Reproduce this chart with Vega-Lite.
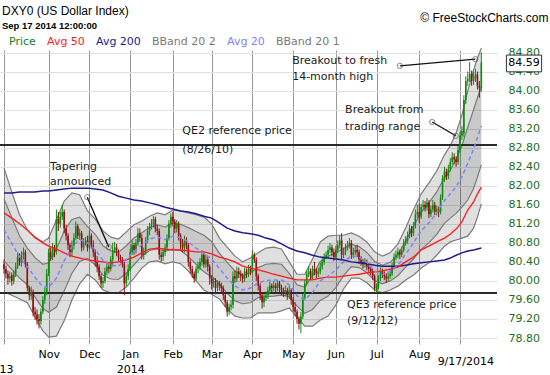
{
"$schema":"https://vega.github.io/schema/vega-lite/v6.json",
"width":497,"height":294,
"autosize":{"type":"none"},
"padding":{"left":0,"top":50,"right":53,"bottom":31},
"background":"white",
"config":{"view":{"stroke":null},"font":"DejaVu Sans"},
"title":{"text":"DXY0 (US Dollar Index)","subtitle":"Sep 17 2014 12:00:00","anchor":"start","frame":"group","offset":0,"dx":2,"dy":20,"font":"Liberation Sans","fontSize":12,"fontWeight":"normal","color":"#000","subtitleFont":"Liberation Sans","subtitleFontSize":9.5,"subtitleFontWeight":"bold","subtitleColor":"#000","subtitlePadding":3},
"resolve":{"axis":{"x":"independent","y":"independent"}},
"datasets":{
"px":[
{"d":"2013-10-01","o":80.35,"h":80.45,"l":80.15,"c":80.25},
{"d":"2013-10-02","o":80.25,"h":80.32,"l":80.05,"c":80.15},
{"d":"2013-10-03","o":80.15,"h":80.22,"l":79.92,"c":80.05},
{"d":"2013-10-04","o":80.05,"h":80.2,"l":79.97,"c":80.1},
{"d":"2013-10-07","o":80.12,"h":80.18,"l":79.9,"c":80.0},
{"d":"2013-10-08","o":80.0,"h":80.22,"l":79.93,"c":80.15},
{"d":"2013-10-09","o":80.15,"h":80.38,"l":80.08,"c":80.3},
{"d":"2013-10-10","o":80.3,"h":80.6,"l":80.25,"c":80.5},
{"d":"2013-10-11","o":80.5,"h":80.58,"l":80.32,"c":80.4},
{"d":"2013-10-14","o":80.38,"h":80.62,"l":80.3,"c":80.55},
{"d":"2013-10-15","o":80.55,"h":80.7,"l":80.45,"c":80.6},
{"d":"2013-10-16","o":80.6,"h":80.66,"l":80.28,"c":80.35},
{"d":"2013-10-17","o":80.35,"h":80.4,"l":79.78,"c":79.85},
{"d":"2013-10-18","o":79.85,"h":79.9,"l":79.6,"c":79.7},
{"d":"2013-10-21","o":79.68,"h":79.88,"l":79.6,"c":79.75},
{"d":"2013-10-22","o":79.75,"h":79.82,"l":79.25,"c":79.35},
{"d":"2013-10-23","o":79.35,"h":79.45,"l":79.18,"c":79.3},
{"d":"2013-10-24","o":79.3,"h":79.4,"l":79.08,"c":79.2},
{"d":"2013-10-25","o":79.2,"h":79.3,"l":79.0,"c":79.15},
{"d":"2013-10-28","o":79.15,"h":79.42,"l":79.08,"c":79.35},
{"d":"2013-10-29","o":79.35,"h":79.68,"l":79.3,"c":79.6},
{"d":"2013-10-30","o":79.6,"h":79.85,"l":79.52,"c":79.75},
{"d":"2013-10-31","o":79.75,"h":80.25,"l":79.7,"c":80.15},
{"d":"2013-11-01","o":80.15,"h":80.68,"l":80.1,"c":80.6},
{"d":"2013-11-04","o":80.6,"h":80.7,"l":80.42,"c":80.5},
{"d":"2013-11-05","o":80.5,"h":80.8,"l":80.44,"c":80.7},
{"d":"2013-11-06","o":80.7,"h":80.76,"l":80.5,"c":80.6},
{"d":"2013-11-07","o":80.62,"h":81.5,"l":80.55,"c":81.3},
{"d":"2013-11-08","o":81.3,"h":81.45,"l":81.05,"c":81.2},
{"d":"2013-11-11","o":81.2,"h":81.45,"l":81.12,"c":81.35},
{"d":"2013-11-12","o":81.35,"h":81.6,"l":81.28,"c":81.45},
{"d":"2013-11-13","o":81.45,"h":81.5,"l":81.0,"c":81.1},
{"d":"2013-11-14","o":81.1,"h":81.18,"l":80.85,"c":80.95},
{"d":"2013-11-15","o":80.95,"h":81.0,"l":80.65,"c":80.75},
{"d":"2013-11-18","o":80.75,"h":80.8,"l":80.5,"c":80.6},
{"d":"2013-11-19","o":80.6,"h":80.85,"l":80.52,"c":80.75},
{"d":"2013-11-20","o":80.75,"h":81.0,"l":80.66,"c":80.9},
{"d":"2013-11-21","o":80.9,"h":81.25,"l":80.85,"c":81.15},
{"d":"2013-11-22","o":81.15,"h":81.2,"l":80.88,"c":80.95},
{"d":"2013-11-25","o":80.95,"h":81.1,"l":80.86,"c":81.0},
{"d":"2013-11-26","o":81.0,"h":81.05,"l":80.62,"c":80.7},
{"d":"2013-11-27","o":80.7,"h":80.9,"l":80.64,"c":80.8},
{"d":"2013-11-28","o":80.8,"h":80.92,"l":80.74,"c":80.85},
{"d":"2013-11-29","o":80.85,"h":80.95,"l":80.62,"c":80.7},
{"d":"2013-12-02","o":80.7,"h":81.05,"l":80.66,"c":80.95},
{"d":"2013-12-03","o":80.95,"h":81.0,"l":80.68,"c":80.75},
{"d":"2013-12-04","o":80.75,"h":80.85,"l":80.5,"c":80.6},
{"d":"2013-12-05","o":80.6,"h":80.66,"l":80.3,"c":80.4},
{"d":"2013-12-06","o":80.4,"h":80.52,"l":80.18,"c":80.3},
{"d":"2013-12-09","o":80.3,"h":80.35,"l":80.02,"c":80.1},
{"d":"2013-12-10","o":80.1,"h":80.15,"l":79.86,"c":79.95},
{"d":"2013-12-11","o":79.95,"h":80.08,"l":79.85,"c":80.0},
{"d":"2013-12-12","o":80.0,"h":80.28,"l":79.95,"c":80.2},
{"d":"2013-12-13","o":80.2,"h":80.4,"l":80.12,"c":80.3},
{"d":"2013-12-16","o":80.3,"h":80.36,"l":80.16,"c":80.25},
{"d":"2013-12-17","o":80.25,"h":80.52,"l":80.2,"c":80.45},
{"d":"2013-12-18","o":80.45,"h":80.8,"l":80.3,"c":80.65},
{"d":"2013-12-19","o":80.65,"h":80.82,"l":80.58,"c":80.7},
{"d":"2013-12-20","o":80.7,"h":80.78,"l":80.52,"c":80.6},
{"d":"2013-12-23","o":80.6,"h":80.66,"l":80.42,"c":80.5},
{"d":"2013-12-24","o":80.5,"h":80.55,"l":80.38,"c":80.45},
{"d":"2013-12-26","o":80.45,"h":80.5,"l":80.28,"c":80.35},
{"d":"2013-12-27","o":80.35,"h":80.4,"l":79.7,"c":79.95},
{"d":"2013-12-30","o":79.95,"h":80.18,"l":79.88,"c":80.1},
{"d":"2013-12-31","o":80.1,"h":80.35,"l":80.02,"c":80.25},
{"d":"2014-01-02","o":80.25,"h":80.68,"l":80.2,"c":80.6},
{"d":"2014-01-03","o":80.6,"h":80.85,"l":80.55,"c":80.75},
{"d":"2014-01-06","o":80.75,"h":80.8,"l":80.55,"c":80.65},
{"d":"2014-01-07","o":80.65,"h":80.88,"l":80.58,"c":80.8},
{"d":"2014-01-08","o":80.8,"h":81.12,"l":80.74,"c":81.0},
{"d":"2014-01-09","o":81.0,"h":81.1,"l":80.82,"c":80.9},
{"d":"2014-01-10","o":80.9,"h":80.98,"l":80.45,"c":80.55},
{"d":"2014-01-13","o":80.55,"h":80.7,"l":80.45,"c":80.6},
{"d":"2014-01-14","o":80.6,"h":80.92,"l":80.55,"c":80.85},
{"d":"2014-01-15","o":80.85,"h":81.15,"l":80.8,"c":81.05},
{"d":"2014-01-16","o":81.05,"h":81.22,"l":80.96,"c":81.15},
{"d":"2014-01-17","o":81.15,"h":81.3,"l":81.08,"c":81.2},
{"d":"2014-01-20","o":81.2,"h":81.36,"l":81.12,"c":81.3},
{"d":"2014-01-21","o":81.3,"h":81.35,"l":81.02,"c":81.1},
{"d":"2014-01-22","o":81.1,"h":81.18,"l":80.96,"c":81.05},
{"d":"2014-01-23","o":81.05,"h":81.1,"l":80.45,"c":80.55},
{"d":"2014-01-24","o":80.55,"h":80.62,"l":80.4,"c":80.5},
{"d":"2014-01-27","o":80.5,"h":80.68,"l":80.42,"c":80.6},
{"d":"2014-01-28","o":80.6,"h":80.78,"l":80.52,"c":80.7},
{"d":"2014-01-29","o":80.7,"h":80.98,"l":80.64,"c":80.9},
{"d":"2014-01-30","o":80.9,"h":81.28,"l":80.85,"c":81.2},
{"d":"2014-01-31","o":81.2,"h":81.42,"l":81.12,"c":81.35},
{"d":"2014-02-03","o":81.35,"h":81.45,"l":81.15,"c":81.25},
{"d":"2014-02-04","o":81.25,"h":81.3,"l":81.0,"c":81.1},
{"d":"2014-02-05","o":81.1,"h":81.28,"l":81.02,"c":81.2},
{"d":"2014-02-06","o":81.2,"h":81.25,"l":80.85,"c":80.95},
{"d":"2014-02-07","o":80.95,"h":81.0,"l":80.66,"c":80.8},
{"d":"2014-02-10","o":80.8,"h":80.88,"l":80.6,"c":80.7},
{"d":"2014-02-11","o":80.7,"h":80.95,"l":80.6,"c":80.85},
{"d":"2014-02-12","o":80.85,"h":80.92,"l":80.66,"c":80.75},
{"d":"2014-02-13","o":80.75,"h":80.8,"l":80.3,"c":80.4},
{"d":"2014-02-14","o":80.4,"h":80.45,"l":80.16,"c":80.25},
{"d":"2014-02-17","o":80.25,"h":80.32,"l":80.06,"c":80.15},
{"d":"2014-02-18","o":80.15,"h":80.2,"l":79.96,"c":80.05},
{"d":"2014-02-19","o":80.05,"h":80.32,"l":80.0,"c":80.25},
{"d":"2014-02-20","o":80.25,"h":80.4,"l":80.16,"c":80.3},
{"d":"2014-02-21","o":80.3,"h":80.48,"l":80.22,"c":80.4},
{"d":"2014-02-24","o":80.4,"h":80.65,"l":80.32,"c":80.55},
{"d":"2014-02-25","o":80.55,"h":80.6,"l":80.28,"c":80.35},
{"d":"2014-02-26","o":80.35,"h":80.55,"l":80.28,"c":80.45},
{"d":"2014-02-27","o":80.45,"h":80.5,"l":80.2,"c":80.3},
{"d":"2014-02-28","o":80.3,"h":80.35,"l":79.92,"c":80.05},
{"d":"2014-03-03","o":80.05,"h":80.12,"l":79.82,"c":79.95},
{"d":"2014-03-04","o":79.95,"h":80.08,"l":79.86,"c":80.0},
{"d":"2014-03-05","o":80.0,"h":80.06,"l":79.72,"c":79.85},
{"d":"2014-03-06","o":79.85,"h":80.02,"l":79.78,"c":79.95},
{"d":"2014-03-07","o":79.95,"h":80.0,"l":79.8,"c":79.9},
{"d":"2014-03-10","o":79.9,"h":79.96,"l":79.76,"c":79.85},
{"d":"2014-03-11","o":79.85,"h":79.9,"l":79.6,"c":79.7},
{"d":"2014-03-12","o":79.7,"h":79.75,"l":79.45,"c":79.55},
{"d":"2014-03-13","o":79.55,"h":79.6,"l":79.25,"c":79.35},
{"d":"2014-03-14","o":79.35,"h":79.52,"l":79.28,"c":79.45},
{"d":"2014-03-17","o":79.45,"h":79.6,"l":79.38,"c":79.5},
{"d":"2014-03-18","o":79.5,"h":80.2,"l":79.42,"c":80.1},
{"d":"2014-03-19","o":80.1,"h":80.22,"l":79.96,"c":80.05},
{"d":"2014-03-20","o":80.05,"h":80.3,"l":79.98,"c":80.2},
{"d":"2014-03-21","o":80.2,"h":80.28,"l":80.06,"c":80.15},
{"d":"2014-03-24","o":80.15,"h":80.22,"l":80.0,"c":80.1},
{"d":"2014-03-25","o":80.1,"h":80.16,"l":79.96,"c":80.05},
{"d":"2014-03-26","o":80.05,"h":80.28,"l":79.98,"c":80.2},
{"d":"2014-03-27","o":80.2,"h":80.26,"l":80.06,"c":80.15},
{"d":"2014-03-28","o":80.15,"h":80.34,"l":80.08,"c":80.25},
{"d":"2014-03-31","o":80.25,"h":80.32,"l":80.12,"c":80.2},
{"d":"2014-04-01","o":80.2,"h":80.65,"l":80.15,"c":80.55},
{"d":"2014-04-02","o":80.55,"h":80.6,"l":80.38,"c":80.45},
{"d":"2014-04-03","o":80.45,"h":80.5,"l":80.0,"c":80.1},
{"d":"2014-04-04","o":80.1,"h":80.15,"l":79.8,"c":79.9},
{"d":"2014-04-07","o":79.9,"h":79.95,"l":79.6,"c":79.7},
{"d":"2014-04-08","o":79.7,"h":79.75,"l":79.42,"c":79.55},
{"d":"2014-04-09","o":79.55,"h":79.72,"l":79.45,"c":79.65},
{"d":"2014-04-10","o":79.65,"h":79.78,"l":79.58,"c":79.7},
{"d":"2014-04-11","o":79.7,"h":79.88,"l":79.62,"c":79.8},
{"d":"2014-04-14","o":79.8,"h":79.98,"l":79.72,"c":79.9},
{"d":"2014-04-15","o":79.9,"h":79.95,"l":79.76,"c":79.85},
{"d":"2014-04-16","o":79.85,"h":80.0,"l":79.78,"c":79.9},
{"d":"2014-04-17","o":79.9,"h":79.96,"l":79.76,"c":79.85},
{"d":"2014-04-21","o":79.85,"h":80.02,"l":79.78,"c":79.95},
{"d":"2014-04-22","o":79.95,"h":80.0,"l":79.76,"c":79.85},
{"d":"2014-04-23","o":79.85,"h":79.92,"l":79.7,"c":79.8},
{"d":"2014-04-24","o":79.8,"h":79.86,"l":79.66,"c":79.75},
{"d":"2014-04-25","o":79.75,"h":79.9,"l":79.68,"c":79.8},
{"d":"2014-04-28","o":79.8,"h":79.86,"l":79.6,"c":79.7},
{"d":"2014-04-29","o":79.7,"h":79.9,"l":79.62,"c":79.8},
{"d":"2014-04-30","o":79.8,"h":79.85,"l":79.5,"c":79.6},
{"d":"2014-05-01","o":79.6,"h":79.66,"l":79.36,"c":79.45},
{"d":"2014-05-02","o":79.45,"h":79.55,"l":79.25,"c":79.35},
{"d":"2014-05-05","o":79.35,"h":79.4,"l":79.1,"c":79.2},
{"d":"2014-05-06","o":79.2,"h":79.25,"l":78.98,"c":79.1},
{"d":"2014-05-07","o":79.1,"h":79.35,"l":78.9,"c":79.25},
{"d":"2014-05-08","o":79.25,"h":79.72,"l":79.2,"c":79.65},
{"d":"2014-05-09","o":79.65,"h":80.02,"l":79.6,"c":79.95},
{"d":"2014-05-12","o":79.95,"h":80.22,"l":79.9,"c":80.15},
{"d":"2014-05-13","o":80.15,"h":80.3,"l":80.08,"c":80.2},
{"d":"2014-05-14","o":80.2,"h":80.26,"l":80.02,"c":80.1},
{"d":"2014-05-15","o":80.1,"h":80.32,"l":80.04,"c":80.25},
{"d":"2014-05-16","o":80.25,"h":80.4,"l":80.12,"c":80.2},
{"d":"2014-05-19","o":80.2,"h":80.26,"l":80.06,"c":80.15},
{"d":"2014-05-20","o":80.15,"h":80.28,"l":80.08,"c":80.2},
{"d":"2014-05-21","o":80.2,"h":80.38,"l":80.14,"c":80.3},
{"d":"2014-05-22","o":80.3,"h":80.48,"l":80.24,"c":80.4},
{"d":"2014-05-23","o":80.4,"h":80.58,"l":80.34,"c":80.5},
{"d":"2014-05-26","o":80.5,"h":80.62,"l":80.46,"c":80.55},
{"d":"2014-05-27","o":80.55,"h":80.74,"l":80.48,"c":80.65},
{"d":"2014-05-28","o":80.65,"h":80.8,"l":80.58,"c":80.7},
{"d":"2014-05-29","o":80.7,"h":80.76,"l":80.52,"c":80.6},
{"d":"2014-05-30","o":80.6,"h":80.68,"l":80.42,"c":80.5},
{"d":"2014-06-02","o":80.5,"h":80.74,"l":80.46,"c":80.65},
{"d":"2014-06-03","o":80.65,"h":80.85,"l":80.58,"c":80.75},
{"d":"2014-06-04","o":80.75,"h":80.95,"l":80.68,"c":80.85},
{"d":"2014-06-05","o":80.85,"h":81.0,"l":80.45,"c":80.55},
{"d":"2014-06-06","o":80.55,"h":80.7,"l":80.48,"c":80.6},
{"d":"2014-06-09","o":80.6,"h":80.78,"l":80.54,"c":80.7},
{"d":"2014-06-10","o":80.7,"h":80.84,"l":80.64,"c":80.75},
{"d":"2014-06-11","o":80.75,"h":80.9,"l":80.68,"c":80.8},
{"d":"2014-06-12","o":80.8,"h":80.86,"l":80.46,"c":80.55},
{"d":"2014-06-13","o":80.55,"h":80.7,"l":80.48,"c":80.6},
{"d":"2014-06-16","o":80.6,"h":80.74,"l":80.54,"c":80.65},
{"d":"2014-06-17","o":80.65,"h":80.76,"l":80.5,"c":80.6},
{"d":"2014-06-18","o":80.6,"h":80.66,"l":80.36,"c":80.45},
{"d":"2014-06-19","o":80.45,"h":80.52,"l":80.32,"c":80.4},
{"d":"2014-06-20","o":80.4,"h":80.46,"l":80.26,"c":80.35},
{"d":"2014-06-23","o":80.35,"h":80.48,"l":80.28,"c":80.4},
{"d":"2014-06-24","o":80.4,"h":80.45,"l":80.22,"c":80.3},
{"d":"2014-06-25","o":80.3,"h":80.36,"l":80.16,"c":80.25},
{"d":"2014-06-26","o":80.25,"h":80.32,"l":80.12,"c":80.2},
{"d":"2014-06-27","o":80.2,"h":80.26,"l":80.02,"c":80.1},
{"d":"2014-06-30","o":80.1,"h":80.14,"l":79.78,"c":79.85},
{"d":"2014-07-01","o":79.82,"h":79.95,"l":79.75,"c":79.88},
{"d":"2014-07-02","o":79.88,"h":80.12,"l":79.82,"c":80.05},
{"d":"2014-07-03","o":80.05,"h":80.28,"l":80.0,"c":80.2},
{"d":"2014-07-07","o":80.2,"h":80.26,"l":80.06,"c":80.15},
{"d":"2014-07-08","o":80.15,"h":80.2,"l":80.02,"c":80.1},
{"d":"2014-07-09","o":80.1,"h":80.16,"l":79.96,"c":80.05},
{"d":"2014-07-10","o":80.05,"h":80.18,"l":79.98,"c":80.1},
{"d":"2014-07-11","o":80.1,"h":80.24,"l":80.04,"c":80.15},
{"d":"2014-07-14","o":80.15,"h":80.38,"l":80.1,"c":80.3},
{"d":"2014-07-15","o":80.3,"h":80.58,"l":80.24,"c":80.5},
{"d":"2014-07-16","o":80.5,"h":80.64,"l":80.44,"c":80.55},
{"d":"2014-07-17","o":80.55,"h":80.7,"l":80.48,"c":80.6},
{"d":"2014-07-18","o":80.6,"h":80.66,"l":80.46,"c":80.55},
{"d":"2014-07-21","o":80.55,"h":80.72,"l":80.5,"c":80.65},
{"d":"2014-07-22","o":80.65,"h":80.88,"l":80.6,"c":80.8},
{"d":"2014-07-23","o":80.8,"h":80.94,"l":80.74,"c":80.85},
{"d":"2014-07-24","o":80.85,"h":81.04,"l":80.78,"c":80.95},
{"d":"2014-07-25","o":80.95,"h":81.18,"l":80.9,"c":81.1},
{"d":"2014-07-28","o":81.1,"h":81.16,"l":80.92,"c":81.0},
{"d":"2014-07-29","o":81.0,"h":81.24,"l":80.94,"c":81.15},
{"d":"2014-07-30","o":81.15,"h":81.5,"l":81.1,"c":81.4},
{"d":"2014-07-31","o":81.4,"h":81.6,"l":81.32,"c":81.45},
{"d":"2014-08-01","o":81.45,"h":81.62,"l":81.22,"c":81.35},
{"d":"2014-08-04","o":81.35,"h":81.62,"l":81.3,"c":81.55},
{"d":"2014-08-05","o":81.55,"h":81.7,"l":81.48,"c":81.6},
{"d":"2014-08-06","o":81.6,"h":81.68,"l":81.46,"c":81.55},
{"d":"2014-08-07","o":81.55,"h":81.74,"l":81.48,"c":81.65},
{"d":"2014-08-08","o":81.65,"h":81.7,"l":81.32,"c":81.4},
{"d":"2014-08-11","o":81.4,"h":81.58,"l":81.34,"c":81.5},
{"d":"2014-08-12","o":81.5,"h":81.7,"l":81.44,"c":81.6},
{"d":"2014-08-13","o":81.6,"h":81.66,"l":81.38,"c":81.45},
{"d":"2014-08-14","o":81.45,"h":81.58,"l":81.38,"c":81.5},
{"d":"2014-08-15","o":81.5,"h":81.56,"l":81.34,"c":81.45},
{"d":"2014-08-18","o":81.45,"h":81.82,"l":81.4,"c":81.75},
{"d":"2014-08-19","o":81.75,"h":82.22,"l":81.7,"c":82.15},
{"d":"2014-08-20","o":82.15,"h":82.4,"l":82.08,"c":82.3},
{"d":"2014-08-21","o":82.3,"h":82.36,"l":82.12,"c":82.2},
{"d":"2014-08-22","o":82.2,"h":82.44,"l":82.14,"c":82.35},
{"d":"2014-08-25","o":82.35,"h":82.58,"l":82.3,"c":82.5},
{"d":"2014-08-26","o":82.5,"h":82.7,"l":82.44,"c":82.6},
{"d":"2014-08-27","o":82.6,"h":82.68,"l":82.46,"c":82.55},
{"d":"2014-08-28","o":82.55,"h":82.62,"l":82.4,"c":82.5},
{"d":"2014-08-29","o":82.5,"h":82.84,"l":82.44,"c":82.75},
{"d":"2014-09-02","o":82.75,"h":83.14,"l":82.7,"c":83.05},
{"d":"2014-09-03","o":83.05,"h":83.25,"l":82.96,"c":83.15},
{"d":"2014-09-04","o":83.1,"h":83.9,"l":83.02,"c":83.8},
{"d":"2014-09-05","o":83.8,"h":84.3,"l":83.72,"c":84.2},
{"d":"2014-09-08","o":84.2,"h":84.4,"l":84.1,"c":84.25},
{"d":"2014-09-09","o":84.25,"h":84.6,"l":84.18,"c":84.35},
{"d":"2014-09-10","o":84.35,"h":84.42,"l":84.1,"c":84.2},
{"d":"2014-09-11","o":84.2,"h":84.4,"l":84.12,"c":84.3},
{"d":"2014-09-12","o":84.26,"h":84.46,"l":84.18,"c":84.34},
{"d":"2014-09-15","o":84.34,"h":84.4,"l":84.02,"c":84.1},
{"d":"2014-09-16","o":84.1,"h":84.2,"l":83.85,"c":84.05},
{"d":"2014-09-17","o":84.05,"h":84.8,"l":83.98,"c":84.59}
],
"bb":[
{"i":1,"u2":82.37,"u1":81.72,"m":81.07,"l1":80.42,"l2":79.77,"a50":81.43,"a200":81.85},
{"i":5,"u2":81.87,"u1":81.33,"m":80.79,"l1":80.24,"l2":79.70,"a50":81.32,"a200":81.85},
{"i":9,"u2":81.39,"u1":80.95,"m":80.50,"l1":80.06,"l2":79.62,"a50":81.20,"a200":81.87},
{"i":13,"u2":81.07,"u1":80.69,"m":80.30,"l1":79.92,"l2":79.54,"a50":81.07,"a200":81.87},
{"i":17,"u2":80.90,"u1":80.49,"m":80.07,"l1":79.66,"l2":79.24,"a50":80.92,"a200":81.87},
{"i":21,"u2":80.82,"u1":80.35,"m":79.88,"l1":79.42,"l2":78.95,"a50":80.80,"a200":81.89},
{"i":24,"u2":80.90,"u1":80.38,"m":79.86,"l1":79.34,"l2":78.82,"a50":80.73,"a200":81.89},
{"i":28,"u2":81.28,"u1":80.67,"m":80.06,"l1":79.45,"l2":78.84,"a50":80.67,"a200":81.91},
{"i":32,"u2":81.68,"u1":81.05,"m":80.42,"l1":79.79,"l2":79.16,"a50":80.59,"a200":81.93},
{"i":36,"u2":81.85,"u1":81.29,"m":80.72,"l1":80.16,"l2":79.60,"a50":80.52,"a200":81.95},
{"i":40,"u2":81.81,"u1":81.34,"m":80.87,"l1":80.41,"l2":79.94,"a50":80.48,"a200":81.95},
{"i":44,"u2":81.47,"u1":81.14,"m":80.80,"l1":80.47,"l2":80.14,"a50":80.44,"a200":81.95},
{"i":48,"u2":81.30,"u1":80.98,"m":80.66,"l1":80.34,"l2":80.02,"a50":80.42,"a200":81.93},
{"i":52,"u2":81.05,"u1":80.74,"m":80.43,"l1":80.12,"l2":79.81,"a50":80.40,"a200":81.91},
{"i":56,"u2":80.92,"u1":80.63,"m":80.33,"l1":80.04,"l2":79.75,"a50":80.38,"a200":81.85},
{"i":60,"u2":80.88,"u1":80.60,"m":80.31,"l1":80.03,"l2":79.75,"a50":80.40,"a200":81.78},
{"i":64,"u2":81.03,"u1":80.74,"m":80.45,"l1":80.16,"l2":79.87,"a50":80.44,"a200":81.74},
{"i":68,"u2":81.18,"u1":80.90,"m":80.62,"l1":80.34,"l2":80.06,"a50":80.50,"a200":81.70},
{"i":72,"u2":81.26,"u1":81.01,"m":80.76,"l1":80.52,"l2":80.27,"a50":80.59,"a200":81.68},
{"i":76,"u2":81.36,"u1":81.12,"m":80.88,"l1":80.64,"l2":80.40,"a50":80.67,"a200":81.64},
{"i":80,"u2":81.43,"u1":81.18,"m":80.92,"l1":80.67,"l2":80.42,"a50":80.69,"a200":81.60},
{"i":84,"u2":81.39,"u1":81.13,"m":80.87,"l1":80.62,"l2":80.36,"a50":80.67,"a200":81.55},
{"i":88,"u2":81.49,"u1":81.22,"m":80.94,"l1":80.67,"l2":80.40,"a50":80.65,"a200":81.51},
{"i":92,"u2":81.47,"u1":81.19,"m":80.91,"l1":80.64,"l2":80.36,"a50":80.65,"a200":81.47},
{"i":96,"u2":81.43,"u1":81.12,"m":80.82,"l1":80.51,"l2":80.21,"a50":80.63,"a200":81.45},
{"i":100,"u2":81.39,"u1":81.04,"m":80.69,"l1":80.35,"l2":80.00,"a50":80.61,"a200":81.41},
{"i":104,"u2":81.34,"u1":80.96,"m":80.58,"l1":80.19,"l2":79.81,"a50":80.61,"a200":81.36},
{"i":108,"u2":81.20,"u1":80.83,"m":80.46,"l1":80.09,"l2":79.72,"a50":80.57,"a200":81.32},
{"i":112,"u2":80.90,"u1":80.58,"m":80.26,"l1":79.94,"l2":79.62,"a50":80.50,"a200":81.22},
{"i":116,"u2":80.71,"u1":80.39,"m":80.06,"l1":79.74,"l2":79.41,"a50":80.46,"a200":81.11},
{"i":120,"u2":80.52,"u1":80.21,"m":79.89,"l1":79.58,"l2":79.26,"a50":80.40,"a200":81.05},
{"i":124,"u2":80.40,"u1":80.11,"m":79.81,"l1":79.52,"l2":79.22,"a50":80.31,"a200":81.01},
{"i":128,"u2":80.48,"u1":80.17,"m":79.85,"l1":79.54,"l2":79.22,"a50":80.27,"a200":80.99},
{"i":132,"u2":80.59,"u1":80.28,"m":79.96,"l1":79.65,"l2":79.33,"a50":80.23,"a200":80.96},
{"i":136,"u2":80.69,"u1":80.35,"m":80.01,"l1":79.67,"l2":79.33,"a50":80.19,"a200":80.90},
{"i":140,"u2":80.71,"u1":80.37,"m":80.02,"l1":79.68,"l2":79.33,"a50":80.14,"a200":80.86},
{"i":144,"u2":80.67,"u1":80.35,"m":80.02,"l1":79.70,"l2":79.37,"a50":80.10,"a200":80.78},
{"i":148,"u2":80.40,"u1":80.16,"m":79.92,"l1":79.67,"l2":79.43,"a50":80.06,"a200":80.69},
{"i":152,"u2":80.14,"u1":79.92,"m":79.69,"l1":79.47,"l2":79.24,"a50":80.02,"a200":80.63},
{"i":156,"u2":80.14,"u1":79.87,"m":79.60,"l1":79.32,"l2":79.05,"a50":80.02,"a200":80.59},
{"i":160,"u2":80.46,"u1":80.11,"m":79.76,"l1":79.40,"l2":79.05,"a50":80.02,"a200":80.54},
{"i":164,"u2":80.82,"u1":80.41,"m":80.00,"l1":79.59,"l2":79.18,"a50":80.06,"a200":80.50},
{"i":168,"u2":80.94,"u1":80.52,"m":80.10,"l1":79.68,"l2":79.26,"a50":80.08,"a200":80.48},
{"i":172,"u2":80.96,"u1":80.60,"m":80.23,"l1":79.86,"l2":79.49,"a50":80.08,"a200":80.46},
{"i":176,"u2":80.96,"u1":80.68,"m":80.40,"l1":80.11,"l2":79.83,"a50":80.10,"a200":80.44},
{"i":180,"u2":81.01,"u1":80.77,"m":80.53,"l1":80.30,"l2":80.06,"a50":80.12,"a200":80.40},
{"i":184,"u2":80.94,"u1":80.72,"m":80.50,"l1":80.28,"l2":80.06,"a50":80.14,"a200":80.38},
{"i":188,"u2":80.82,"u1":80.60,"m":80.39,"l1":80.17,"l2":79.96,"a50":80.17,"a200":80.36},
{"i":192,"u2":80.61,"u1":80.41,"m":80.21,"l1":80.01,"l2":79.81,"a50":80.19,"a200":80.33},
{"i":196,"u2":80.52,"u1":80.33,"m":80.13,"l1":79.94,"l2":79.75,"a50":80.21,"a200":80.31},
{"i":200,"u2":80.59,"u1":80.39,"m":80.20,"l1":80.00,"l2":79.81,"a50":80.25,"a200":80.31},
{"i":204,"u2":80.78,"u1":80.55,"m":80.33,"l1":80.11,"l2":79.89,"a50":80.29,"a200":80.31},
{"i":208,"u2":81.11,"u1":80.84,"m":80.56,"l1":80.29,"l2":80.02,"a50":80.40,"a200":80.33},
{"i":212,"u2":81.49,"u1":81.15,"m":80.80,"l1":80.46,"l2":80.12,"a50":80.50,"a200":80.36},
{"i":216,"u2":81.83,"u1":81.44,"m":81.05,"l1":80.66,"l2":80.27,"a50":80.65,"a200":80.38},
{"i":220,"u2":82.06,"u1":81.64,"m":81.22,"l1":80.80,"l2":80.38,"a50":80.73,"a200":80.40},
{"i":224,"u2":82.31,"u1":81.87,"m":81.43,"l1":80.98,"l2":80.54,"a50":80.82,"a200":80.42},
{"i":228,"u2":82.65,"u1":82.17,"m":81.69,"l1":81.21,"l2":80.73,"a50":80.90,"a200":80.44},
{"i":231,"u2":82.84,"u1":82.33,"m":81.83,"l1":81.32,"l2":80.82,"a50":80.98,"a200":80.48},
{"i":234,"u2":83.11,"u1":82.55,"m":81.98,"l1":81.42,"l2":80.86,"a50":81.09,"a200":80.54},
{"i":237,"u2":83.49,"u1":82.84,"m":82.19,"l1":81.55,"l2":80.90,"a50":81.24,"a200":80.59},
{"i":240,"u2":83.99,"u1":83.23,"m":82.47,"l1":81.70,"l2":80.94,"a50":81.49,"a200":80.63},
{"i":243,"u2":84.43,"u1":83.60,"m":82.77,"l1":81.94,"l2":81.11,"a50":81.66,"a200":80.65},
{"i":245,"u2":84.68,"u1":83.85,"m":83.01,"l1":82.18,"l2":81.34,"a50":81.83,"a200":80.67},
{"i":247,"u2":84.89,"u1":84.07,"m":83.26,"l1":82.44,"l2":81.62,"a50":81.97,"a200":80.69}
],
"lvl":[{"name":"QE2 8/26/10","p":82.856},{"name":"QE3 9/12/12","p":79.745}],
"ptr":[{"k":"a","i":43.9,"p":81.76},{"k":"a","i":55.0,"p":80.71},{"k":"b","i":205.0,"p":84.52},{"k":"b","i":243.9,"p":84.66},{"k":"c","i":221.7,"p":83.34},{"k":"c","i":233.8,"p":83.05}],
"notes":[{"i":24.7,"p":82.39,"t":"Tapering"},{"i":24.7,"p":82.08,"t":"announced"},{"i":92.9,"p":83.15,"t":"QE2 reference price"},{"i":92.9,"p":82.75,"t":"(8/26/10)"},{"i":149.5,"p":84.62,"t":"Breakout to fresh"},{"i":149.5,"p":84.29,"t":"14-month high"},{"i":176.8,"p":83.59,"t":"Breakout from"},{"i":176.8,"p":83.23,"t":"trading range"},{"i":177.8,"p":79.49,"t":"QE3 reference price"},{"i":177.8,"p":79.16,"t":"(9/12/12)"}],
"tag":[{"i":269,"p":84.57,"t":"84.59"}]
},
"layer":[
{"data":{"name":"bb"},"mark":{"type":"area","color":"#000","opacity":0.12},
 "encoding":{"x":{"field":"i","type":"quantitative","scale":{"domain":[1.5,252.5],"nice":false,"zero":false},"axis":null},
  "y":{"field":"u2","type":"quantitative","scale":{"domain":[78.674,84.853],"nice":false,"zero":false},"axis":null},"y2":{"field":"l2"}}},
{"data":{"name":"bb"},"mark":{"type":"area","color":"#000","opacity":0.1},
 "encoding":{"x":{"field":"i","type":"quantitative","scale":{"domain":[1.5,252.5],"nice":false,"zero":false},"axis":null},
  "y":{"field":"u1","type":"quantitative","scale":{"domain":[78.674,84.853],"nice":false,"zero":false},"axis":null},"y2":{"field":"l1"}}},
{"data":{"name":"bb"},"transform":[{"fold":["u2","l2"],"as":["k","v"]}],"mark":{"type":"line","strokeWidth":1.2},
 "encoding":{"x":{"field":"i","type":"quantitative","scale":{"domain":[1.5,252.5],"nice":false,"zero":false},"axis":null},
  "y":{"field":"v","type":"quantitative","scale":{"domain":[78.674,84.853],"nice":false,"zero":false},"axis":null},
  "detail":{"field":"k"},"color":{"datum":"BBand 20 2"}}},
{"data":{"name":"bb"},"transform":[{"fold":["u1","l1"],"as":["k","v"]}],"mark":{"type":"line","strokeWidth":1.2},
 "encoding":{"x":{"field":"i","type":"quantitative","scale":{"domain":[1.5,252.5],"nice":false,"zero":false},"axis":null},
  "y":{"field":"v","type":"quantitative","scale":{"domain":[78.674,84.853],"nice":false,"zero":false},"axis":null},
  "detail":{"field":"k"},"color":{"datum":"BBand 20 1"}}},
{"data":{"name":"lvl"},"mark":{"type":"rule","color":"#2a2a2a","strokeWidth":2},
 "encoding":{"y":{"field":"p","type":"quantitative","scale":{"domain":[78.674,84.853],"nice":false,"zero":false},"axis":null}}},
{"data":{"name":"px"},"transform":[{"window":[{"op":"row_number","as":"i"}]}],"mark":{"type":"rule","strokeWidth":1},
 "encoding":{"x":{"field":"i","type":"quantitative","scale":{"domain":[1.5,252.5],"nice":false,"zero":false},"axis":null},
  "y":{"field":"l","type":"quantitative","scale":{"domain":[78.674,84.853],"nice":false,"zero":false},"axis":null},"y2":{"field":"h"},
  "color":{"condition":{"test":"datum.c >= datum.o","value":"#0f8a0f"},"value":"#8e1111"}}},
{"data":{"name":"px"},"transform":[{"window":[{"op":"row_number","as":"i"}]}],"mark":{"type":"bar","size":1.6},
 "encoding":{"x":{"field":"i","type":"quantitative","scale":{"domain":[1.5,252.5],"nice":false,"zero":false},"axis":null},
  "y":{"field":"o","type":"quantitative","scale":{"domain":[78.674,84.853],"nice":false,"zero":false},"axis":null},"y2":{"field":"c"},
  "color":{"condition":{"test":"datum.c >= datum.o","value":"#0f8a0f"},"value":"#8e1111"}}},
{"data":{"name":"bb"},"mark":{"type":"line","strokeWidth":1.5},
 "encoding":{"x":{"field":"i","type":"quantitative","scale":{"domain":[1.5,252.5],"nice":false,"zero":false},"axis":null},
  "y":{"field":"a200","type":"quantitative","scale":{"domain":[78.674,84.853],"nice":false,"zero":false},"axis":null},"color":{"datum":"Avg 200"}}},
{"data":{"name":"bb"},"mark":{"type":"line","strokeWidth":1.3},
 "encoding":{"x":{"field":"i","type":"quantitative","scale":{"domain":[1.5,252.5],"nice":false,"zero":false},"axis":null},
  "y":{"field":"a50","type":"quantitative","scale":{"domain":[78.674,84.853],"nice":false,"zero":false},"axis":null},"color":{"datum":"Avg 50"}}},
{"data":{"name":"bb"},"mark":{"type":"line","strokeWidth":1.5,"strokeDash":[4,3]},
 "encoding":{"x":{"field":"i","type":"quantitative","scale":{"domain":[1.5,252.5],"nice":false,"zero":false},"axis":null},
  "y":{"field":"m","type":"quantitative","scale":{"domain":[78.674,84.853],"nice":false,"zero":false},"axis":null},"color":{"datum":"Avg 20"}}},
{"data":{"name":"px"},"transform":[{"window":[{"op":"row_number","as":"i"}]}],"mark":{"type":"line","opacity":0},
 "encoding":{
  "x":{"field":"i","type":"quantitative","scale":{"domain":[1.5,252.5],"nice":false,"zero":false},
   "axis":{"values":[1,24,45,66,88,108,129,150,172,193,215,236,247],
    "labelExpr":"datum.value == 1 ? ['', '2013'] : datum.value == 24 ? 'Nov' : datum.value == 45 ? 'Dec' : datum.value == 66 ? ['Jan', '2014'] : datum.value == 88 ? 'Feb' : datum.value == 108 ? 'Mar' : datum.value == 129 ? 'Apr' : datum.value == 150 ? 'May' : datum.value == 172 ? 'Jun' : datum.value == 193 ? 'Jul' : datum.value == 215 ? 'Aug' : datum.value == 247 ? '9/17/2014' : ''",
    "grid":true,"gridColor":"#9a9a9a","gridWidth":1,
    "gridOpacity":{"condition":{"test":"datum.value == 247","value":0},"value":1},
    "ticks":false,"tickSize":0,"domain":false,
    "labelFont":"DejaVu Sans","labelFontSize":11,"labelColor":"#000","labelLineHeight":15,
    "labelPadding":{"condition":{"test":"datum.value == 247","value":11},"value":4},
    "labelOffset":{"condition":[{"test":"datum.value == 247","value":-16},{"test":"datum.value == 1","value":-5}],"value":0},
    "labelFlush":false,"labelOverlap":false,"labelBound":false,
    "title":"© FreeStockCharts.com","titleX":548,"titleY":-327,"titleAlign":"right","titleBaseline":"middle","titleAnchor":"start",
    "titleFont":"Liberation Sans","titleFontSize":12,"titleFontWeight":"normal","titleColor":"#000"}},
  "y":{"field":"c","type":"quantitative","scale":{"domain":[78.674,84.853],"nice":false,"zero":false},
   "axis":{"orient":"right","values":[78.8,79.2,79.6,80,80.4,80.8,81.2,81.6,82,82.4,82.8,83.2,83.6,84,84.4,84.8],"format":".2f",
    "grid":true,"gridColor":"#e0e0e0","ticks":false,"tickSize":0,"domain":false,
    "labelFont":"DejaVu Sans","labelFontSize":11,"labelColor":"#1c6e1c","labelPadding":11,"labelOverlap":false,"labelBound":false,"title":null}},
  "color":{"datum":"Price","scale":{"domain":["Price","Avg 50","Avg 200","BBand 20 2","Avg 20","BBand 20 1"],"range":["#1c7a1c","#ff1a1a","#1c1c8c","#7a7a7a","#8080ff","#7a7a7a"]},
   "legend":{"orient":"none","legendX":-2,"legendY":-14,"direction":"horizontal","title":null,"symbolSize":0,"symbolOpacity":0,"symbolStrokeWidth":0,"labelOffset":0,"columnPadding":-4,"labelFont":"DejaVu Sans","labelFontSize":11,"padding":0,
    "encode":{"labels":{"update":{"fill":{"scale":"color","field":"value"}}}}}}}},
{"data":{"name":"ptr"},"mark":{"type":"line","color":"#111","strokeWidth":1.3},
 "encoding":{"x":{"field":"i","type":"quantitative","scale":{"domain":[1.5,252.5],"nice":false,"zero":false},"axis":null},
  "y":{"field":"p","type":"quantitative","scale":{"domain":[78.674,84.853],"nice":false,"zero":false},"axis":null},"detail":{"field":"k"}}},
{"data":{"name":"ptr"},"mark":{"type":"point","filled":false,"size":28,"color":"#555","strokeWidth":1},
 "encoding":{"x":{"field":"i","type":"quantitative","scale":{"domain":[1.5,252.5],"nice":false,"zero":false},"axis":null},
  "y":{"field":"p","type":"quantitative","scale":{"domain":[78.674,84.853],"nice":false,"zero":false},"axis":null}}},
{"data":{"name":"notes"},"mark":{"type":"text","align":"left","baseline":"middle","font":"DejaVu Sans","fontSize":11,"color":"#1a1a1a"},
 "encoding":{"x":{"field":"i","type":"quantitative","scale":{"domain":[1.5,252.5],"nice":false,"zero":false},"axis":null},
  "y":{"field":"p","type":"quantitative","scale":{"domain":[78.674,84.853],"nice":false,"zero":false},"axis":null},"text":{"field":"t"}}},
{"data":{"name":"tag"},"mark":{"type":"point","shape":"M -1.6 -0.76 H 1.6 V 0.76 H -1.6 Z","size":484,"filled":true,"fill":"#fff","stroke":"#333","strokeWidth":1,"opacity":1},
 "encoding":{"x":{"field":"i","type":"quantitative","scale":{"domain":[1.5,252.5],"nice":false,"zero":false},"axis":null},
  "y":{"field":"p","type":"quantitative","scale":{"domain":[78.674,84.853],"nice":false,"zero":false},"axis":null}}},
{"data":{"name":"tag"},"mark":{"type":"text","align":"center","baseline":"middle","font":"DejaVu Sans","fontSize":11,"color":"#000"},
 "encoding":{"x":{"field":"i","type":"quantitative","scale":{"domain":[1.5,252.5],"nice":false,"zero":false},"axis":null},
  "y":{"field":"p","type":"quantitative","scale":{"domain":[78.674,84.853],"nice":false,"zero":false},"axis":null},"text":{"field":"t"}}}
]
}
